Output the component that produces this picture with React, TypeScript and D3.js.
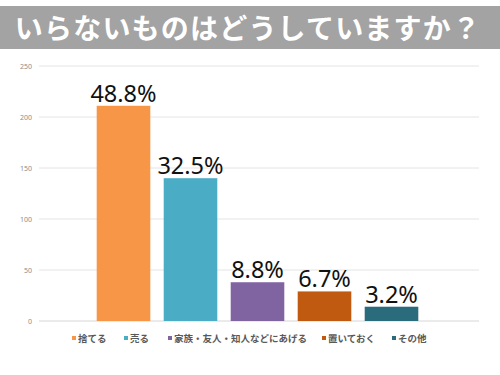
import * as d3 from "d3";

const categories = ["捨てる", "売る", "家族・友人・知人などにあげる", "置いておく", "その他"];
const counts = [211, 140, 38, 29, 14];
const percentLabels = ["48.8%", "32.5%", "8.8%", "6.7%", "3.2%"];
const colors = ["#F79646", "#4BACC6", "#8064A2", "#BF5A10", "#2A6B7C"];
const yTicks = [0, 50, 100, 150, 200, 250];
const legendX = [72, 124, 168, 322, 392];

export default function App() {
  const width = 500;
  const height = 375;

  const x = d3.scaleBand<string>().domain(categories).range([90, 425]).paddingInner(0.2).paddingOuter(0.1);
  const y = d3.scaleLinear().domain([0, 250]).range([321, 66]);

  return (
    <svg
      width={width}
      height={height}
      style={{ position: "absolute", left: 0, top: 0, background: "#fff" }}
    >
      <rect x={0} y={6} width={width} height={43} fill="#a3a3a3" />
      <text
        x={248}
        y={39}
        textAnchor="middle"
        fill="#fff"
        fontSize={28}
        fontWeight="bold"
        letterSpacing={1.2}
        fontFamily="'Noto Sans CJK JP', sans-serif"
      >
        いらないものはどうしていますか？
      </text>

      {yTicks.map((t) => (
        <g key={t}>
          <line x1={39} x2={479} y1={y(t)} y2={y(t)} stroke={t === 0 ? "#d6d6d6" : "#e4e4e4"} strokeWidth={1} />
          <text
            x={32}
            y={y(t) + 2.5}
            textAnchor="end"
            fontSize={7}
            fill="#8c8c8c"
            fontFamily="'Noto Sans', sans-serif"
          >
            {t}
          </text>
        </g>
      ))}

      {categories.map((c, i) => (
        <g key={c}>
          <rect x={x(c)} y={y(counts[i])} width={x.bandwidth()} height={y(0) - y(counts[i])} fill={colors[i]} />
          <text
            x={(x(c) as number) + x.bandwidth() / 2}
            y={y(counts[i]) - 4}
            textAnchor="middle"
            fontSize={23.5}
            fill="#111"
            fontFamily="'Noto Sans', sans-serif"
          >
            {percentLabels[i]}
          </text>
        </g>
      ))}

      {categories.map((c, i) => (
        <g key={"lg" + c}>
          <rect x={legendX[i]} y={336} width={4} height={4} fill={colors[i]} />
          <text
            x={legendX[i] + 6}
            y={341.5}
            fontSize={9.5}
            fontWeight="bold"
            fill="#595959"
            fontFamily="'Noto Sans CJK JP', sans-serif"
          >
            {c}
          </text>
        </g>
      ))}
    </svg>
  );
}
